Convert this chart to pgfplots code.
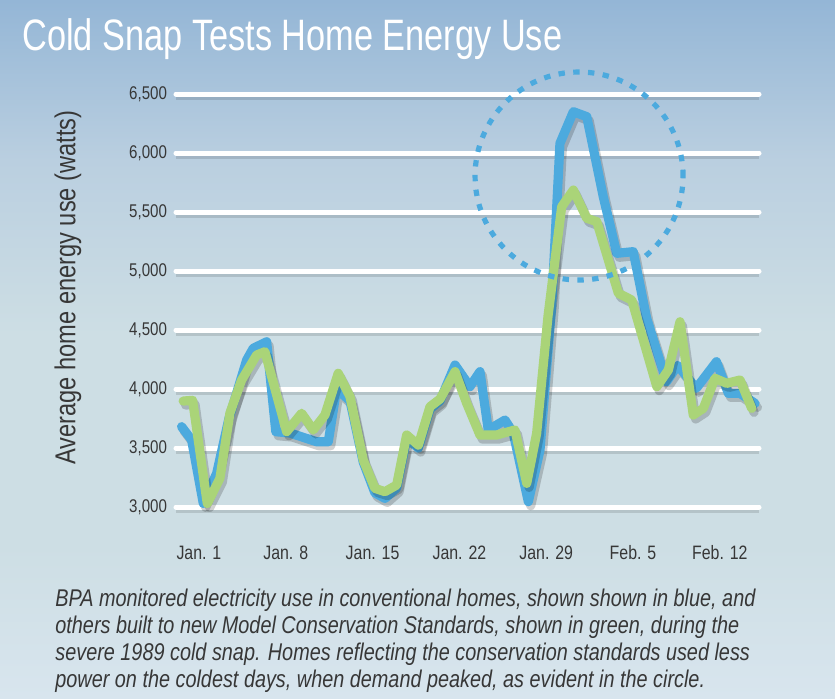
\documentclass[border=0pt]{standalone}
\usepackage{fontspec}
\setmainfont{Liberation Sans}[FakeStretch=0.82]
\newfontfamily\titlefont{Liberation Sans}[FakeStretch=0.78]
\usepackage{pgfplots}
\pgfplotsset{compat=1.18}
\definecolor{bgtop}{RGB}{148,182,214}
\definecolor{bgup}{RGB}{186,207,224}
\definecolor{bgmid}{RGB}{205,222,228}
\definecolor{bgbot}{RGB}{216,229,238}
\definecolor{lblue}{RGB}{76,170,222}
\definecolor{lgreen}{RGB}{170,212,120}
\definecolor{txt}{RGB}{55,55,55}
\pgfdeclareverticalshading{bgshade}{100bp}{color(0bp)=(bgbot); color(25bp)=(bgbot); color(36bp)=(bgmid); color(51bp)=(bgmid); color(63.5bp)=(bgup); color(75bp)=(bgtop); color(100bp)=(bgtop)}
\begin{document}
\begin{tikzpicture}
\path[use as bounding box] (0,0) rectangle (417.5pt,349pt);
\shade[shading=bgshade] (0,0) rectangle (417.5pt,349pt);
\node[anchor=base west, text=white, font=\titlefont\fontsize{22}{24}\selectfont, inner sep=0pt] at (11pt,323.5pt) {Cold Snap Tests Home Energy Use};
\begin{axis}[
  at={(88pt,86.65pt)}, anchor=south west,
  scale only axis, width=291.5pt, height=224.2pt,
  xmin=-0.85, xmax=46.16, ymin=2850, ymax=6650,
  axis line style={draw=none},
  major tick length=0pt,
  clip=false,
  xtick={1,8,15,22,29,36,43},
  xticklabels={Jan. 1, Jan. 8, Jan. 15, Jan. 22, Jan. 29, Feb. 5, Feb. 12},
  ytick={3000,3500,4000,4500,5000,5500,6000,6500},
  yticklabels={{3,000},{3,500},{4,000},{4,500},{5,000},{5,500},{6,000},{6,500}},
  ymajorgrids,
  major grid style={white, line width=2.5pt, line cap=round,
    preaction={draw=black, opacity=0.12, line width=2.5pt, transform canvas={yshift=-1.5pt}}},
  xticklabel style={font=\fontsize{9.7}{11}\selectfont, text=txt, yshift=-7pt},
  yticklabel style={font=\fontsize{9.2}{11}\selectfont, text=txt, xshift=-1pt},
  ylabel={Average home energy use (watts)},
  ylabel style={at={(axis description cs:-0.1852,0.529)}, anchor=center, font=\fontsize{14.4}{16}\selectfont, text=txt},
]
\addplot[lblue, line width=4.6pt, line join=round, line cap=round,
  preaction={draw=black, opacity=0.18, line width=4.6pt, transform canvas={xshift=1.2pt,yshift=-2pt}}]
coordinates {
(-0.4,3681) (0.41,3568) (1.35,3031) (2.43,3285) (3.42,3750) (4.85,4246) (5.38,4345) (6.46,4400)
(7.2,3638) (8.34,3627) (10.49,3553) (11.43,3553) (12.1,4000) (13.18,3900) (14.25,3380) (15.19,3120)
(16.0,3073) (16.94,3160) (17.75,3580) (18.69,3500) (19.63,3830) (20.44,3900) (21.65,4203) (22.85,4020)
(23.66,4147) (24.33,3653) (25.68,3737) (26.35,3624) (27.56,3045) (28.5,3483) (29.44,4698) (30.11,6082)
(31.19,6350) (32.27,6308) (33.6,5631) (34.69,5150) (36.02,5164) (37.1,4600) (38.7,4062) (39.6,4200)
(41.1,4006) (42.73,4231) (43.69,3963) (44.63,3963) (45.84,3878)
};
\addplot[lgreen, line width=4.6pt, line join=round, line cap=round,
  preaction={draw=black, opacity=0.18, line width=4.6pt, transform canvas={xshift=1.2pt,yshift=-2pt}}]
coordinates {
(-0.27,3898) (0.49,3904) (1.67,3030) (2.69,3243) (3.5,3797) (4.44,4076) (5.65,4288) (6.32,4316)
(8.07,3638) (9.28,3794) (10.22,3653) (11.16,3780) (12.23,4133) (13.18,3935) (14.25,3398) (15.19,3158)
(16.0,3130) (16.94,3186) (17.75,3610) (18.69,3525) (19.63,3850) (20.44,3915) (21.65,4147) (22.59,3879)
(23.66,3610) (25.0,3610) (26.48,3653) (27.43,3200) (28.23,3624) (29.15,4620) (30.25,5545) (31.19,5686)
(32.27,5447) (33.08,5418) (34.82,4811) (35.9,4754) (37.92,4020) (38.85,4161) (39.79,4570) (40.86,3780)
(41.67,3836) (42.61,4090) (43.56,4048) (44.63,4076) (45.57,3836)
};
\draw[lblue, line width=2.6pt, dash pattern=on 3.2pt off 4.2pt] (axis cs:31.65,5805) circle[radius=52pt];
\end{axis}
\node[anchor=north west, align=left, text=txt, inner sep=0pt, font=\fontsize{12.1}{13.5}\selectfont\itshape] at (27.5pt,54.5pt)
{BPA monitored electricity use in conventional homes, shown shown in blue, and\\
others built to new Model Conservation Standards, shown in green, during the\\
severe 1989 cold snap. Homes reflecting the conservation standards used less\\
power on the coldest days, when demand peaked, as evident in the circle.};
\end{tikzpicture}
\end{document}
